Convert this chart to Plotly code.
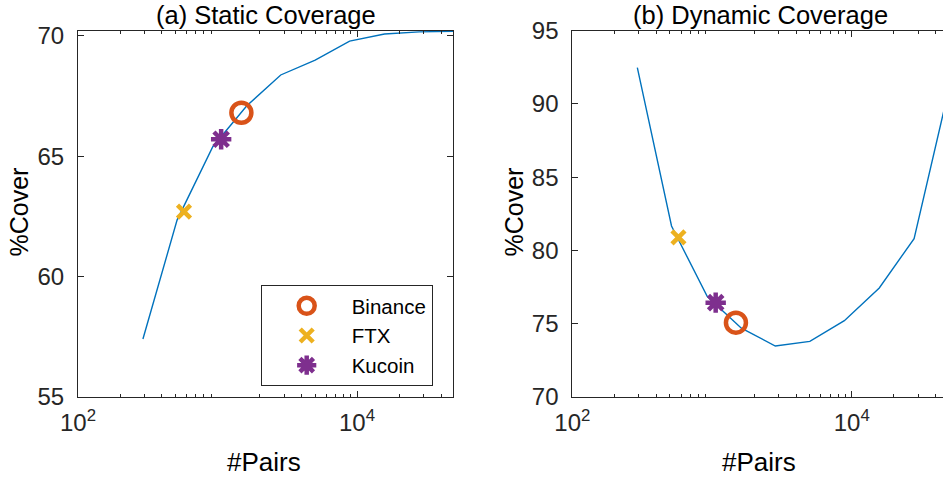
import plotly.graph_objects as go

# ---- data ----
pairs = [292, 513, 925, 1622, 2838, 5012, 8851, 15740, 27930, 48980]
static_cover = [57.41, 62.35, 65.40, 67.10, 68.38, 69.00, 69.79, 70.08, 70.17, 70.20]
dynamic_cover = [92.48, 81.67, 76.85, 74.70, 73.48, 73.80, 75.21, 77.44, 80.81, 90.80]

exchanges = ["Binance", "FTX", "Kucoin"]
ex_pairs = [1483, 575, 1062]
ex_static = [66.81, 62.70, 65.71]
ex_dynamic = [75.07, 80.90, 76.44]

left_yticks = [55, 60, 65, 70]
right_yticks = [70, 75, 80, 85, 90, 95]
x_major = [100, 10000]
x_major_text = ["10<sup>2</sup>", "10<sup>4</sup>"]
x_minor = [m * 10 ** e for e in (2, 3, 4) for m in range(2, 10)]

# ---- style ----
W, H = 943, 478
FONT = "Liberation Sans, Arial, sans-serif"
AX = "#262626"
LINE_BLUE = "#0072BD"
ex_colors = ["#D95319", "#EDB120", "#7E2F8E"]
ex_symbols = ["circle-open", "x-thin-open", "asterisk-open"]
ex_sizes = [20, 13, 17]
ex_lw = [4.5, 4.5, 4.5]

fig = go.Figure()

# left panel
fig.add_trace(go.Scatter(x=pairs, y=static_cover, mode="lines",
                         line=dict(color=LINE_BLUE, width=1.4),
                         showlegend=False, xaxis="x", yaxis="y"))
for i, name in enumerate(exchanges):
    fig.add_trace(go.Scatter(x=[ex_pairs[i]], y=[ex_static[i]], mode="markers", name=name,
                             marker=dict(symbol=ex_symbols[i], size=ex_sizes[i],
                                         color=ex_colors[i],
                                         line=dict(color=ex_colors[i], width=ex_lw[i])),
                             xaxis="x", yaxis="y"))
# right panel
fig.add_trace(go.Scatter(x=pairs, y=dynamic_cover, mode="lines",
                         line=dict(color=LINE_BLUE, width=1.4),
                         showlegend=False, xaxis="x2", yaxis="y2"))
for i, name in enumerate(exchanges):
    fig.add_trace(go.Scatter(x=[ex_pairs[i]], y=[ex_dynamic[i]], mode="markers", name=name,
                             showlegend=False,
                             marker=dict(symbol=ex_symbols[i], size=ex_sizes[i],
                                         color=ex_colors[i],
                                         line=dict(color=ex_colors[i], width=ex_lw[i])),
                             xaxis="x2", yaxis="y2"))

def xaxis(domain, rng):
    return dict(domain=domain, type="log", range=rng, showgrid=False, zeroline=False,
                automargin=False,
                showline=True, linecolor=AX, linewidth=1, mirror="ticks",
                ticks="inside", ticklen=6, tickcolor=AX, tickwidth=1,
                tickmode="array", tickvals=x_major, ticktext=x_major_text,
                tickfont=dict(family=FONT, size=24, color=AX),
                ticklabelstandoff=4,
                minor=dict(tickmode="array", tickvals=x_minor, ticks="inside",
                           ticklen=3, tickcolor=AX, tickwidth=1, showgrid=False))

def yaxis(domain, rng, ticks, anchor, mirror):
    return dict(domain=domain, range=rng, anchor=anchor, showgrid=False, zeroline=False,
                automargin=False,
                showline=True, linecolor=AX, linewidth=1, mirror=mirror,
                ticks="inside", ticklen=6, tickcolor=AX, tickwidth=1,
                tickmode="array", tickvals=ticks,
                tickfont=dict(family=FONT, size=24, color=AX),
                ticklabelstandoff=8)

yd = [1 - 397 / H, 1 - 30.7 / H]
fig.update_layout(
    template="none",
    width=W, height=H,
    margin=dict(l=0, r=0, t=0, b=0, autoexpand=False),
    paper_bgcolor="white", plot_bgcolor="white",
    font=dict(family=FONT, color=AX),
    xaxis=dict(**xaxis([78 / W, 453 / W], [2, 4.688]), anchor="y"),
    yaxis=yaxis(yd, [55, 70.22], left_yticks, "x", "ticks"),
    xaxis2=dict(**xaxis([572.3 / W, 1.0], [2, 4.653]), anchor="y2"),
    yaxis2=yaxis(yd, [70, 95], right_yticks, "x2", False),
    legend=dict(x=260.7 / W, y=1 - 285 / H, xanchor="left", yanchor="top",
                bgcolor="white", bordercolor=AX, borderwidth=1,
                font=dict(family=FONT, size=20.5, color="black"),
                itemwidth=80, tracegroupgap=0),
    showlegend=True,
)

# subplot titles (anchored to the top edge so they are not clipped)
for text, x in [("(a) Static Coverage", 265.5), ("(b) Dynamic Coverage", 760)]:
    fig.add_annotation(text=text, x=x / W, y=1.0, xref="paper", yref="paper",
                       showarrow=False, xanchor="center", yanchor="top", borderpad=0,
                       font=dict(family=FONT, size=25.5, color="black"))

ann = [
    ("#Pairs", 264, 462, 0, 26),
    ("#Pairs", 759, 462, 0, 26),
    ("%Cover", 19, 212.5, -90, 25),
    ("%Cover", 514, 212.5, -90, 25),
]
for text, x, y, ang, size in ann:
    fig.add_annotation(text=text, x=x / W, y=1 - y / H, xref="paper", yref="paper",
                       showarrow=False, textangle=ang, xanchor="center", yanchor="middle",
                       font=dict(family=FONT, size=size, color="black"))

fig.write_html("out.html")
